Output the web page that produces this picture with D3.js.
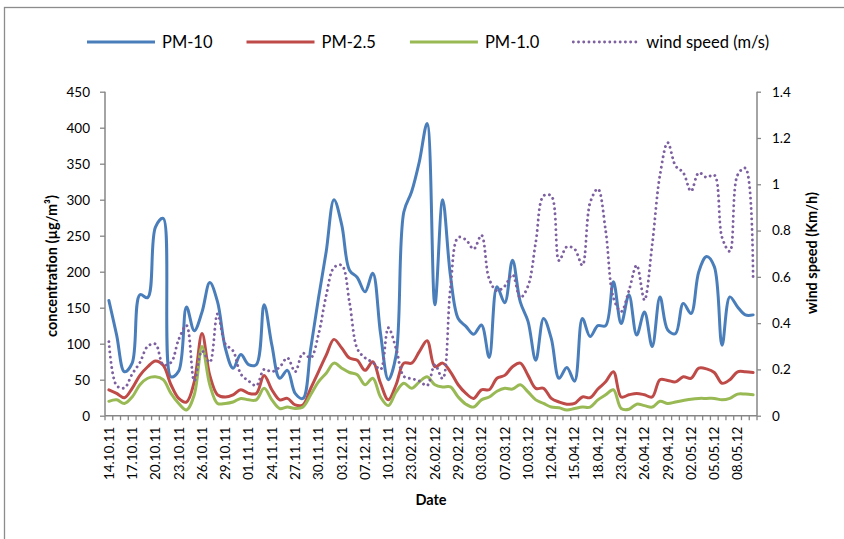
<!DOCTYPE html>
<html>
<head>
<meta charset="utf-8">
<script src="https://cdn.jsdelivr.net/npm/d3@7"></script>
<style>
  html, body { margin: 0; padding: 0; background: #fff; }
  svg { display: block; font-family: Lato, Carlito, Calibri, sans-serif; }
</style>
</head>
<body>
<svg id="chart" width="844" height="539"></svg>
<script>
// sample dates (only every third one is labelled on the axis)
const dates = [
  '14.10.11','15.10.11','16.10.11','17.10.11','18.10.11','19.10.11','20.10.11','21.10.11','22.10.11','23.10.11',
  '24.10.11','25.10.11','26.10.11','27.10.11','28.10.11','29.10.11','30.10.11','31.10.11','01.11.11','02.11.11',
  '23.11.11','24.11.11','25.11.11','26.11.11','27.11.11','28.11.11','29.11.11','30.11.11','01.12.11','02.12.11',
  '03.12.11','05.12.11','06.12.11','07.12.11','08.12.11','09.12.11','10.12.11','11.12.11','22.02.12','23.02.12',
  '24.02.12','25.02.12','26.02.12','27.02.12','28.02.12','29.02.12','01.03.12','02.03.12','03.03.12','05.03.12',
  '06.03.12','07.03.12','08.03.12','09.03.12','10.03.12','11.03.12','11.04.12','12.04.12','13.04.12','14.04.12',
  '15.04.12','16.04.12','17.04.12','18.04.12','20.04.12','22.04.12','23.04.12','24.04.12','25.04.12','26.04.12',
  '27.04.12','28.04.12','29.04.12','30.04.12','01.05.12','02.05.12','03.05.12','04.05.12','05.05.12','06.05.12',
  '07.05.12','08.05.12','09.05.12','10.05.12'
];

// concentrations (µg/m³)
const pm10 = [
  160,112,61,73,168,164,262,274,54,62, 151,118,144,185,158,94,66,85,71,71,
  154,98,52,63,31,24,93,163,228,300, 265,202,192,172,198,114,50,84,283,311,
  353,406,154,300,195,135,124,113,126,81, 179,157,216,158,131,77,135,107,52,67,
  48,135,110,125,125,186,128,168,112,144, 96,165,119,114,156,142,200,221,207,98,
  165,151,140,140
];
const pm25 = [
  36,31,25,38,56,68,76,70,43,24, 19,47,114,56,29,26,29,36,31,31,
  56,36,22,24,15,15,38,61,84,106, 94,80,77,63,75,45,22,43,73,73,
  89,104,68,73,61,43,31,24,36,36, 52,56,68,73,56,38,38,24,19,16,
  17,26,25,37,47,61,26,29,31,29, 26,50,49,47,54,52,66,65,60,45,
  50,61,61,60
];
const pm1 = [
  20,22,17,26,43,52,54,50,31,17, 8,29,96,43,17,17,19,24,22,22,
  38,22,10,12,10,12,29,47,59,73, 66,60,57,43,52,26,14,33,45,38,
  47,54,43,40,40,26,16,12,22,26, 34,38,37,43,33,22,17,12,11,8,
  10,12,12,22,29,36,10,9,16,14, 12,20,17,19,21,23,24,24,24,22,
  24,30,30,29
];
// wind speed, right axis
const wind = [
  0.32,0.13,0.12,0.18,0.23,0.30,0.31,0.22,0.23,0.33, 0.39,0.15,0.28,0.23,0.44,0.31,0.28,0.18,0.15,0.13,
  0.20,0.19,0.21,0.25,0.19,0.27,0.25,0.35,0.52,0.64, 0.65,0.49,0.29,0.25,0.23,0.20,0.38,0.29,0.17,0.16,
  0.15,0.13,0.22,0.16,0.55,0.77,0.76,0.72,0.78,0.59, 0.54,0.56,0.61,0.51,0.56,0.75,0.95,0.95,0.67,0.73,
  0.72,0.65,0.92,0.98,0.80,0.51,0.45,0.54,0.65,0.50, 0.74,1.04,1.18,1.08,1.05,0.97,1.05,1.03,1.04,0.77,
  0.71,1.04,1.07,0.59
];

const leftTicks = [0, 50, 100, 150, 200, 250, 300, 350, 400, 450];
const rightTicks = [0, 0.2, 0.4, 0.6, 0.8, 1, 1.2, 1.4];

const series = [
  { name: 'PM-10', values: pm10, axis: 'left', color: '#4a7ebb' },
  { name: 'PM-2.5', values: pm25, axis: 'left', color: '#be4b48' },
  { name: 'PM-1.0', values: pm1, axis: 'left', color: '#98b954' },
  { name: 'wind speed (m/s)', values: wind, axis: 'right', color: '#7d60a0', dotted: true }
];

const svg = d3.select('#chart');
const plot = { left: 105, right: 757, top: 91.7, bottom: 415.7 };
const axisColor = '#868686';

// 外框
svg.append('rect')
  .attr('x', 4.5).attr('y', 7.5)
  .attr('width', 1000).attr('height', 1000)
  .attr('fill', 'none')
  .attr('stroke', '#8c8c8c')
  .attr('stroke-width', 1.3);

const x = d3.scaleBand().domain(d3.range(dates.length)).range([plot.left, plot.right]).padding(0);
const yLeft = d3.scaleLinear().domain([0, 450]).range([plot.bottom, plot.top]);
const yRight = d3.scaleLinear().domain([0, 1.4]).range([plot.bottom, plot.top]);
const cx = i => x(i) + x.bandwidth() / 2;

// left axis
const gLeft = svg.append('g')
  .attr('transform', `translate(${plot.left},0)`)
  .call(d3.axisLeft(yLeft).tickValues(leftTicks).tickSize(5).tickPadding(10).tickFormat(d3.format('d')));

// right axis
const gRight = svg.append('g')
  .attr('transform', `translate(${plot.right},0)`)
  .call(d3.axisRight(yRight).tickValues(rightTicks).tickSize(4).tickPadding(11).tickFormat(d => d3.format('~g')(d)));

[gLeft, gRight].forEach(g => {
  g.select('.domain').attr('stroke', axisColor).attr('stroke-width', 1.5)
    .attr('d', `M0,${plot.top}V${plot.bottom}`);
  g.selectAll('.tick line').attr('stroke', axisColor).attr('stroke-width', 1.3);
  g.selectAll('.tick text').attr('fill', '#000').style('font-size', '13.5px').style('font-family', 'Lato, Carlito, sans-serif');
});

// bottom axis: tick marks at category boundaries, label every third category
const gBottom = svg.append('g')
  .attr('transform', `translate(0,${plot.bottom})`)
  .call(d3.axisBottom(x).tickSize(0).tickPadding(0)
    .tickValues(d3.range(0, dates.length, 3))
    .tickFormat(i => dates[i]));
gBottom.select('.domain').attr('stroke', axisColor).attr('stroke-width', 1.5)
  .attr('d', `M${plot.left},0H${plot.right}`);
gBottom.selectAll('.tick text')
  .attr('fill', '#000')
  .style('font-size', '13.5px')
  .style('font-family', 'Lato, Carlito, sans-serif')
  .attr('text-anchor', 'end')
  .attr('transform', 'rotate(-90)')
  .attr('x', -11)
  .attr('y', 0)
  .attr('dy', '0.36em');

const boundaries = d3.range(dates.length).map(i => x(i)).concat([plot.right]);
gBottom.selectAll('.bound')
  .data(boundaries)
  .join('line')
  .attr('class', 'bound')
  .attr('x1', d => d).attr('x2', d => d)
  .attr('y1', 0).attr('y2', 4.5)
  .attr('stroke', axisColor)
  .attr('stroke-width', 1.3);

// series lines
series.forEach(s => {
  const yScale = s.axis === 'left' ? yLeft : yRight;
  const line = d3.line()
    .x((d, i) => cx(i))
    .y(d => yScale(d))
    .curve(d3.curveCatmullRom.alpha(0.5));
  const path = svg.append('path')
    .datum(s.values)
    .attr('fill', 'none')
    .attr('stroke', s.color)
    .attr('d', line);
  if (s.dotted) {
    path.attr('stroke-width', 2.9)
      .attr('stroke-linecap', 'round')
      .attr('stroke-dasharray', '0.01 5.2');
  } else {
    path.attr('stroke-width', 3)
      .attr('stroke-linejoin', 'round')
      .attr('stroke-linecap', 'round');
  }
});

// axis titles
svg.append('text')
  .attr('transform', 'translate(57,266) rotate(-90)')
  .attr('text-anchor', 'middle')
  .style('font-size', '14.5px').style('font-weight', 'bold')
  .text('concentration (µg/m³)');

svg.append('text')
  .attr('transform', 'translate(817,253) rotate(-90)')
  .attr('text-anchor', 'middle')
  .style('font-size', '14.5px').style('font-weight', 'bold')
  .text('wind speed (Km/h)');

svg.append('text')
  .attr('x', (plot.left + plot.right) / 2)
  .attr('y', 505)
  .attr('text-anchor', 'middle')
  .style('font-size', '14.5px').style('font-weight', 'bold')
  .text('Date');

// legend
const legend = svg.append('g').attr('class', 'legend');
let lx = 87;
const ly = 42;
series.forEach(s => {
  const len = s.dotted ? 66 : 68;
  const l = legend.append('line')
    .attr('x1', lx).attr('x2', lx + len)
    .attr('y1', ly).attr('y2', ly)
    .attr('stroke', s.color);
  if (s.dotted) {
    l.attr('stroke-width', 2.9).attr('stroke-linecap', 'round').attr('stroke-dasharray', '0.01 5.2');
  } else {
    l.attr('stroke-width', 3);
  }
  const t = legend.append('text')
    .attr('x', lx + len + 7)
    .attr('y', ly)
    .attr('dy', '0.35em')
    .style('font-size', '16.5px')
    .text(s.name);
  lx += len + 7 + t.node().getComputedTextLength() + 34;
});
</script>
</body>
</html>
